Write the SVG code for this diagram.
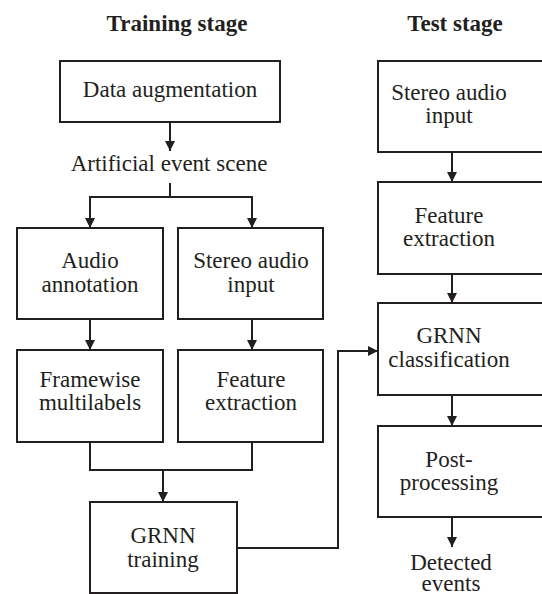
<svg xmlns="http://www.w3.org/2000/svg" width="542" height="594" viewBox="0 0 542 594">
<defs>
<marker id="ah" viewBox="0 0 10 10" refX="10" refY="5" markerWidth="10" markerHeight="10" markerUnits="userSpaceOnUse" orient="auto">
<path d="M0,0 L10,5 L0,10 Z" fill="#231f20"/>
</marker>
<style>
rect{fill:#fff;stroke:#231f20;stroke-width:2}
text{font-family:'Liberation Serif','Times New Roman',Times,serif;font-size:23px;fill:#231f20;text-anchor:middle}
.t{font-weight:bold}
.c path{fill:none;stroke:#231f20;stroke-width:2}
.c path.a{marker-end:url(#ah)}
</style>
</defs>
<rect x="0" y="0" width="542" height="594" style="stroke:none;fill:#fff"/>
<g font-family="Liberation Serif, serif">
<text class="t" x="177" y="31">Training stage</text>
<text class="t" x="455" y="31">Test stage</text>

<g id="data-aug"><rect x="60" y="61" width="220" height="61"/><text x="170" y="97">Data augmentation</text></g>
<g id="artificial"><text x="169" y="171">Artificial event scene</text></g>
<g id="audio-annot"><rect x="17" y="228" width="146" height="91"/><text x="90" y="268">Audio</text><text x="90" y="292">annotation</text></g>
<g id="stereo-train"><rect x="178" y="228" width="145" height="91"/><text x="251" y="268">Stereo audio</text><text x="251" y="292">input</text></g>
<g id="framewise"><rect x="17" y="350" width="146" height="92"/><text x="90" y="387">Framewise</text><text x="90" y="410">multilabels</text></g>
<g id="feat-train"><rect x="178" y="350" width="145" height="92"/><text x="251" y="387">Feature</text><text x="251" y="410">extraction</text></g>
<g id="grnn-train"><rect x="90" y="502" width="147" height="91"/><text x="163" y="543">GRNN</text><text x="163" y="567">training</text></g>

<g id="stereo-test"><rect x="378" y="61" width="170" height="91"/><text x="449" y="100">Stereo audio</text><text x="449" y="123">input</text></g>
<g id="feat-test"><rect x="378" y="182" width="170" height="92"/><text x="449" y="223">Feature</text><text x="449" y="246">extraction</text></g>
<g id="grnn-class"><rect x="378" y="303" width="170" height="92"/><text x="449" y="343">GRNN</text><text x="449" y="367">classification</text></g>
<g id="post"><rect x="378" y="426" width="170" height="91"/><text x="449" y="467">Post-</text><text x="449" y="490">processing</text></g>
<g id="detected"><text x="451" y="570">Detected</text><text x="451" y="591">events</text></g>
</g>
<g class="c" id="connectors">
<path class="a" d="M170,122 V151"/>
<path d="M170,183 V197 M90,197 H252"/>
<path class="a" d="M90,196 V228"/>
<path class="a" d="M252,196 V228"/>
<path class="a" d="M90,319 V350"/>
<path class="a" d="M252,319 V350"/>
<path d="M90,442 V470 H252 V442"/>
<path class="a" d="M163,470 V502"/>
<path class="a" d="M237,548 H338 V351 H378"/>
<path class="a" d="M452,152 V182"/>
<path class="a" d="M452,274 V303"/>
<path class="a" d="M452,395 V426"/>
<path class="a" d="M452,517 V547"/>
</g>
</svg>
